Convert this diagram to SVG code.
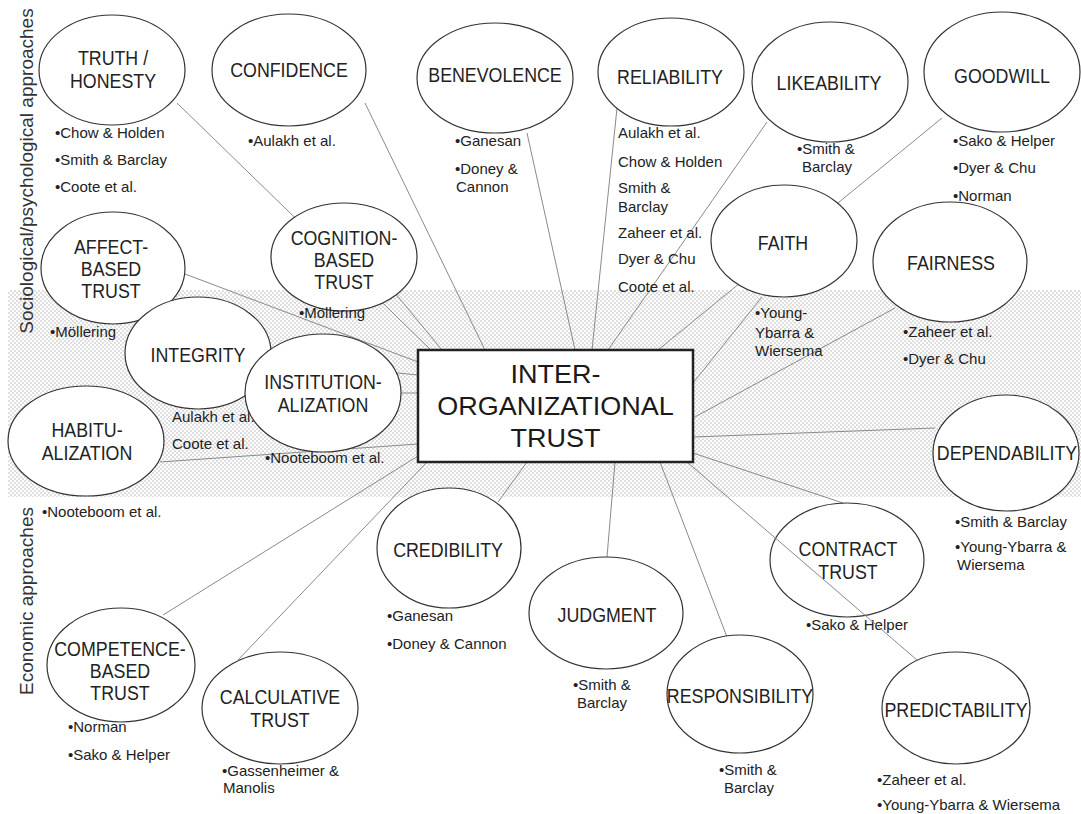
<svg xmlns="http://www.w3.org/2000/svg" width="1081" height="814" viewBox="0 0 1081 814">
<defs>
<pattern id="dots" width="4" height="4" patternUnits="userSpaceOnUse"><rect width="4" height="4" fill="#fff"/><circle cx="1" cy="1" r="0.75" fill="#b0b0b0"/><circle cx="3" cy="3" r="0.75" fill="#b0b0b0"/></pattern>
<style>
.node ellipse{fill:#fff;stroke:#333;stroke-width:1.2}
.lbl{font-family:"Liberation Sans",Arial,sans-serif;font-size:20px;fill:#222;text-anchor:middle}
.cit{font-family:"Liberation Sans",Arial,sans-serif;font-size:15px;fill:#222}
.side{font-family:"Liberation Sans",Arial,sans-serif;font-size:19px;fill:#333;text-anchor:middle}
#connectors line{stroke:#8a8a8a;stroke-width:1}
.core{font-family:"Liberation Sans",Arial,sans-serif;font-size:25.5px;fill:#1a1a1a;text-anchor:middle}
</style>
</defs>
<rect width="1081" height="814" fill="#fff"/>
<rect id="band" x="8" y="290" width="1073" height="207" fill="url(#dots)"/>
<text class="side" transform="translate(33,171) rotate(-90)">Sociological/psychological  approaches</text>
<text class="side" transform="translate(33,601) rotate(-90)">Economic approaches</text>
<g id="connectors">
<line x1="177" y1="103" x2="431" y2="350"/>
<line x1="365" y1="103" x2="485" y2="350"/>
<line x1="527" y1="133" x2="575" y2="350"/>
<line x1="617" y1="108" x2="592" y2="350"/>
<line x1="767" y1="122" x2="608" y2="350"/>
<line x1="942" y1="118" x2="658" y2="350"/>
<line x1="762" y1="297" x2="693" y2="383"/>
<line x1="895" y1="308" x2="693" y2="418"/>
<line x1="935" y1="428" x2="693" y2="437"/>
<line x1="693" y1="453" x2="843" y2="503"/>
<line x1="660" y1="462" x2="727" y2="637"/>
<line x1="615" y1="462" x2="607" y2="557"/>
<line x1="527" y1="462" x2="498" y2="502"/>
<line x1="427" y1="462" x2="238" y2="660"/>
<line x1="418" y1="456" x2="163" y2="615"/>
<line x1="418" y1="444" x2="160" y2="462"/>
<line x1="401" y1="393" x2="418" y2="393"/>
<line x1="198" y1="353" x2="418" y2="375"/>
<line x1="395" y1="293" x2="442" y2="350"/>
<line x1="185" y1="274" x2="418" y2="362"/>
</g>
<g id="n-affect" class="node"><ellipse cx="113" cy="268" rx="72" ry="56"/><text class="lbl" transform="translate(111,0) scale(0.89,1)"><tspan x="0" y="254">AFFECT-</tspan><tspan x="0" y="276">BASED</tspan><tspan x="0" y="298">TRUST</tspan></text><text class="cit" x="50" y="337">•Möllering</text></g>
<g id="n-integrity" class="node"><ellipse cx="198" cy="353" rx="73" ry="56"/><text class="lbl" transform="translate(198,0) scale(0.89,1)"><tspan x="0" y="362">INTEGRITY</tspan></text><text class="cit" x="172" y="422">Aulakh et al.</text><text class="cit" x="172" y="449">Coote et al.</text></g>
<g id="n-institution" class="node"><ellipse cx="323" cy="393" rx="78" ry="59"/><text class="lbl" transform="translate(323,0) scale(0.89,1)"><tspan x="0" y="389">INSTITUTION-</tspan><tspan x="0" y="412">ALIZATION</tspan></text><text class="cit" x="265" y="463">•Nooteboom et al.</text></g>
<g id="n-truth" class="node"><ellipse cx="112" cy="70" rx="73" ry="55"/><text class="lbl" transform="translate(113,0) scale(0.89,1)"><tspan x="0" y="65">TRUTH /</tspan><tspan x="0" y="88">HONESTY</tspan></text><text class="cit" x="55" y="138">•Chow &amp; Holden</text><text class="cit" x="55" y="165">•Smith &amp; Barclay</text><text class="cit" x="55" y="192">•Coote et al.</text></g>
<g id="n-confidence" class="node"><ellipse cx="289" cy="70" rx="77" ry="56"/><text class="lbl" transform="translate(289,0) scale(0.89,1)"><tspan x="0" y="77">CONFIDENCE</tspan></text><text class="cit" x="248" y="146">•Aulakh et al.</text></g>
<g id="n-benevolence" class="node"><ellipse cx="495" cy="78" rx="78" ry="55"/><text class="lbl" transform="translate(495,0) scale(0.89,1)"><tspan x="0" y="82">BENEVOLENCE</tspan></text><text class="cit" x="455" y="146">•Ganesan</text><text class="cit" x="455" y="174">•Doney &amp;</text><text class="cit" x="456" y="192">Cannon</text></g>
<g id="n-reliability" class="node"><ellipse cx="671" cy="72" rx="73" ry="54"/><text class="lbl" transform="translate(670,0) scale(0.89,1)"><tspan x="0" y="84">RELIABILITY</tspan></text><text class="cit" x="618" y="138">Aulakh et al.</text><text class="cit" x="618" y="167">Chow &amp; Holden</text><text class="cit" x="618" y="193">Smith &amp;</text><text class="cit" x="618" y="212">Barclay</text><text class="cit" x="618" y="238">Zaheer et al.</text><text class="cit" x="618" y="264">Dyer &amp; Chu</text><text class="cit" x="618" y="292">Coote et al.</text></g>
<g id="n-likeability" class="node"><ellipse cx="830" cy="82" rx="78" ry="60"/><text class="lbl" transform="translate(829,0) scale(0.89,1)"><tspan x="0" y="90">LIKEABILITY</tspan></text><text class="cit" x="797" y="154">•Smith &amp;</text><text class="cit" x="802" y="172">Barclay</text></g>
<g id="n-goodwill" class="node"><ellipse cx="1002" cy="72" rx="78" ry="60"/><text class="lbl" transform="translate(1002,0) scale(0.89,1)"><tspan x="0" y="83">GOODWILL</tspan></text><text class="cit" x="953" y="146">•Sako &amp; Helper</text><text class="cit" x="953" y="173">•Dyer &amp; Chu</text><text class="cit" x="953" y="201">•Norman</text></g>
<g id="n-cognition" class="node"><ellipse cx="344" cy="257" rx="73" ry="54"/><text class="lbl" transform="translate(344,0) scale(0.89,1)"><tspan x="0" y="245">COGNITION-</tspan><tspan x="0" y="267">BASED</tspan><tspan x="0" y="289">TRUST</tspan></text><text class="cit" x="299" y="318">•Möllering</text></g>
<g id="n-faith" class="node"><ellipse cx="784" cy="241" rx="73" ry="56"/><text class="lbl" transform="translate(783,0) scale(0.89,1)"><tspan x="0" y="250">FAITH</tspan></text><text class="cit" x="755" y="318">•Young-</text><text class="cit" x="755" y="338">Ybarra &amp;</text><text class="cit" x="755" y="356">Wiersema</text></g>
<g id="n-fairness" class="node"><ellipse cx="950" cy="262" rx="77" ry="60"/><text class="lbl" transform="translate(951,0) scale(0.89,1)"><tspan x="0" y="270">FAIRNESS</tspan></text><text class="cit" x="903" y="337">•Zaheer et al.</text><text class="cit" x="903" y="364">•Dyer &amp; Chu</text></g>
<g id="n-habitu" class="node"><ellipse cx="86" cy="441" rx="78" ry="55"/><text class="lbl" transform="translate(87,0) scale(0.89,1)"><tspan x="0" y="437">HABITU-</tspan><tspan x="0" y="460">ALIZATION</tspan></text><text class="cit" x="42" y="517">•Nooteboom et al.</text></g>
<g id="n-dependability" class="node"><ellipse cx="1006" cy="453" rx="73" ry="58"/><text class="lbl" transform="translate(1007,0) scale(0.89,1)"><tspan x="0" y="460">DEPENDABILITY</tspan></text><text class="cit" x="955" y="527">•Smith &amp; Barclay</text><text class="cit" x="955" y="552">•Young-Ybarra &amp;</text><text class="cit" x="957" y="570">Wiersema</text></g>
<g id="n-credibility" class="node"><ellipse cx="449" cy="548" rx="72" ry="60"/><text class="lbl" transform="translate(448,0) scale(0.89,1)"><tspan x="0" y="557">CREDIBILITY</tspan></text><text class="cit" x="387" y="621">•Ganesan</text><text class="cit" x="387" y="649">•Doney &amp; Cannon</text></g>
<g id="n-judgment" class="node"><ellipse cx="606" cy="613" rx="77" ry="56"/><text class="lbl" transform="translate(607,0) scale(0.89,1)"><tspan x="0" y="622">JUDGMENT</tspan></text><text class="cit" x="573" y="690">•Smith &amp;</text><text class="cit" x="577" y="708">Barclay</text></g>
<g id="n-contract" class="node"><ellipse cx="847" cy="560" rx="77" ry="57"/><text class="lbl" transform="translate(848,0) scale(0.89,1)"><tspan x="0" y="556">CONTRACT</tspan><tspan x="0" y="579">TRUST</tspan></text><text class="cit" x="806" y="630">•Sako &amp; Helper</text></g>
<g id="n-responsibility" class="node"><ellipse cx="740" cy="694" rx="73" ry="59"/><text class="lbl" transform="translate(740,0) scale(0.89,1)"><tspan x="0" y="703">RESPONSIBILITY</tspan></text><text class="cit" x="719" y="775">•Smith &amp;</text><text class="cit" x="724" y="793">Barclay</text></g>
<g id="n-predictability" class="node"><ellipse cx="956" cy="708" rx="74" ry="56"/><text class="lbl" transform="translate(956,0) scale(0.89,1)"><tspan x="0" y="717">PREDICTABILITY</tspan></text><text class="cit" x="877" y="785">•Zaheer et al.</text><text class="cit" x="877" y="810">•Young-Ybarra &amp; Wiersema</text></g>
<g id="n-calculative" class="node"><ellipse cx="280" cy="708" rx="78" ry="56"/><text class="lbl" transform="translate(280,0) scale(0.89,1)"><tspan x="0" y="704">CALCULATIVE</tspan><tspan x="0" y="727">TRUST</tspan></text><text class="cit" x="222" y="776">•Gassenheimer &amp;</text><text class="cit" x="223" y="793">Manolis</text></g>
<g id="n-competence" class="node"><ellipse cx="121" cy="665" rx="74" ry="57"/><text class="lbl" transform="translate(120,0) scale(0.89,1)"><tspan x="0" y="656">COMPETENCE-</tspan><tspan x="0" y="678">BASED</tspan><tspan x="0" y="700">TRUST</tspan></text><text class="cit" x="68" y="732">•Norman</text><text class="cit" x="68" y="760">•Sako &amp; Helper</text></g>
<g id="connector-over">
<line x1="687" y1="462" x2="917" y2="660" stroke="#8a8a8a" stroke-width="1"/>
</g>
<g id="n-core">
<rect x="418" y="350" width="275" height="112" fill="#fff" stroke="#222" stroke-width="2.5"/>
<text class="core" transform="translate(555.5,0) scale(1.06,1)"><tspan x="0" y="383">INTER-</tspan><tspan x="0" y="415">ORGANIZATIONAL</tspan><tspan x="0" y="447">TRUST</tspan></text>
</g>
</svg>
